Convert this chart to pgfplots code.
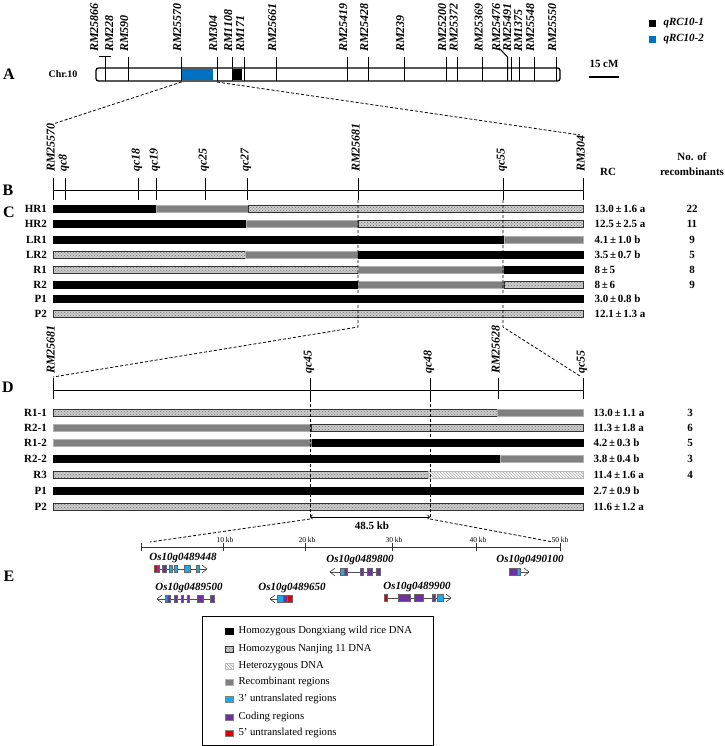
\documentclass[border=0pt]{standalone}
\usepackage{fontspec}
\setmainfont{Liberation Serif}
\usepackage{pgfplots}
\pgfplotsset{compat=1.18}
\usetikzlibrary{patterns}
\definecolor{qblue}{RGB}{0,112,192}
\definecolor{cdsp}{RGB}{112,48,160}
\definecolor{utrt}{RGB}{30,170,230}
\definecolor{utrf}{RGB}{225,0,0}
\definecolor{recg}{RGB}{128,128,128}
\tikzset{
 blk/.style={fill=black, draw=black, line width=0.3pt},
 hat/.style={fill=gray!40, draw=black!80, line width=0.7pt, postaction={pattern=crosshatch dots, pattern color=black!55}},
 rec/.style={fill=recg, draw=gray!60, line width=0.6pt},
 het/.style={fill=white, draw=gray!55, line width=0.6pt, postaction={pattern=north west lines, pattern color=gray!75}},
 dsh/.style={black, line width=0.8pt, dash pattern=on 3pt off 2pt},
 pl/.style={font=\bfseries\fontsize{16}{16}\selectfont, inner sep=0pt},
}
\newcommand{\mk}{\fontsize{12}{12}\selectfont\bfseries\itshape}
\newcommand{\lb}{\fontsize{11}{11}\selectfont\bfseries}
\newcommand{\seg}[4]{\pgfmathsetmacro\ya{#3-3.5}\pgfmathsetmacro\yb{#3+3.5}%
 \addplot[#4] coordinates {(#1,\ya) (#2,\ya) (#2,\yb) (#1,\yb)} --cycle;}
\newcommand{\gb}[4]{\pgfmathsetmacro\ya{#3-3.5}\pgfmathsetmacro\yb{#3+3.5}%
 \addplot[fill=#4, draw=black!60, line width=0.4pt] coordinates {(#1,\ya) (#2,\ya) (#2,\yb) (#1,\yb)} --cycle;}
\newcommand{\lsq}[3]{\pgfmathsetmacro\ya{#2-3}\pgfmathsetmacro\yb{#2+3}%
 \addplot[#3] coordinates {(225,\ya) (233,\ya) (233,\yb) (225,\yb)} --cycle;
 \node[anchor=west, font=\fontsize{10.7}{11}\selectfont] at (axis cs:235,#2) {#1};}
\newcommand{\chR}[2]{\pgfmathsetmacro\xa{#1-5}\pgfmathsetmacro\ya{#2-4}\pgfmathsetmacro\yb{#2+4}%
 \addplot[black!75, line width=0.6pt] coordinates {(\xa,\ya) (#1,#2) (\xa,\yb)};}
\newcommand{\chL}[2]{\pgfmathsetmacro\xa{#1+5}\pgfmathsetmacro\ya{#2-4}\pgfmathsetmacro\yb{#2+4}%
 \addplot[black!75, line width=0.6pt] coordinates {(\xa,\ya) (#1,#2) (\xa,\yb)};}
\newcommand{\gl}[3]{\addplot[black!70, line width=0.8pt] coordinates {(#1,#3) (#2,#3)};}
\newcommand{\vl}[3]{\addplot[black, line width=1pt] coordinates {(#1,#2) (#1,#3)};}
\newcommand{\mA}[2]{\node[rotate=90, anchor=base west, font=\mk, inner sep=0pt] at (axis cs:#1+4,52) {#2};}
\newcommand{\mB}[2]{\node[rotate=90, anchor=base west, font=\mk, inner sep=0pt] at (axis cs:#1+1.5,172) {#2};}
\newcommand{\mD}[2]{\node[rotate=90, anchor=base west, font=\mk, inner sep=0pt] at (axis cs:#1+1.5,374) {#2};}
\newcommand{\rl}[2]{\node[anchor=east, font=\lb, inner sep=0pt] at (axis cs:47,#1) {#2};}
\begin{document}
\begin{tikzpicture}
\begin{axis}[scale only axis, width=724pt, height=746pt, xmin=0, xmax=724, ymin=0, ymax=746,
  y dir=reverse, hide axis, clip=false]
% ---------------- A ----------------
\node[pl] at (axis cs:9,74) {A};
\node[font=\bfseries\fontsize{10}{10}\selectfont] at (axis cs:63,74) {Chr.10};
\addplot[draw=black, line width=1.3pt, fill=white, rounded corners=2.5pt] coordinates {(96,68) (560,68) (560,81) (96,81)} --cycle;
\addplot[fill=qblue, draw=none] coordinates {(182,69) (213,69) (213,80) (182,80)} --cycle;
\addplot[fill=black, draw=none] coordinates {(233,69) (242,69) (242,80) (233,80)} --cycle;
\addplot[black, line width=1pt] coordinates {(99,57) (111,57)};
\vl{105}{57}{81} \vl{128}{57}{81} \vl{181.5}{57}{81} \vl{217}{57}{81} \vl{232}{57}{81}
\vl{244}{57}{81} \vl{276}{57}{81} \vl{347}{57}{81} \vl{368}{57}{81} \vl{404}{57}{81}
\vl{446}{57}{81} \vl{457.5}{57}{81} \vl{482.5}{57}{81} \vl{511}{57}{81}
\vl{519.5}{57}{81} \vl{534}{57}{81} \vl{556}{57}{81}
\addplot[black, line width=1pt] coordinates {(500,49) (507.5,57) (507.5,81)};
\mA{94}{RM25866} \mA{109}{RM228} \mA{124}{RM590} \mA{177}{RM25570} \mA{213}{RM304}
\mA{228}{RM1108} \mA{240}{RM171} \mA{272}{RM25661} \mA{343}{RM25419} \mA{364}{RM25428}
\mA{400}{RM239} \mA{442}{RM25200} \mA{453.5}{RM25372} \mA{478.5}{RM25369} \mA{496}{RM25476}
\mA{507}{RM25491} \mA{518}{RM1375} \mA{530}{RM25548} \mA{552}{RM25550}
% legend top right
\addplot[fill=black, draw=none] coordinates {(649,20) (656,20) (656,27) (649,27)} --cycle;
\addplot[fill=qblue, draw=none] coordinates {(649,36) (656,36) (656,43) (649,43)} --cycle;
\node[anchor=west, font=\mk\fontsize{11}{11}\selectfont] at (axis cs:660,23.5) {qRC10-1};
\node[anchor=west, font=\mk\fontsize{11}{11}\selectfont] at (axis cs:660,39.5) {qRC10-2};
\node[font=\lb] at (axis cs:604,64) {15 cM};
\addplot[black, line width=1.2pt] coordinates {(589,77) (619,77)};
% dashed A->B
\addplot[dsh] coordinates {(181.5,82) (53,124)};
\addplot[dsh] coordinates {(217,82) (580,135)};
% ---------------- B ----------------
\node[pl] at (axis cs:8,190) {B};
\addplot[black, line width=1pt] coordinates {(53,190) (583,190)};
\vl{53}{178}{200} \vl{65}{178}{200} \vl{138}{178}{200} \vl{156}{178}{200} \vl{205}{178}{200}
\vl{247}{178}{200} \vl{358}{178}{200} \vl{503}{178}{200} \vl{583}{178}{200}
\mB{53}{RM25570} \mB{65}{qc8} \mB{138}{qc18} \mB{156}{qc19} \mB{205}{qc25} \mB{247}{qc27}
\mB{358}{RM25681} \mB{503}{qc55} \mB{583}{RM304}
\node[font=\lb] at (axis cs:608,172) {RC};
\node[font=\lb, inner sep=0pt] at (axis cs:692,157) {No. of};
\node[font=\lb, inner sep=0pt] at (axis cs:692,172) {recombinants};
% ---------------- C ----------------
\node[pl] at (axis cs:9,212) {C};
\seg{53}{156}{209}{blk} \seg{156}{248}{209}{rec} \seg{248}{583}{209}{hat}
\seg{53}{246}{224}{blk} \seg{246}{358}{224}{rec} \seg{358}{583}{224}{hat}
\seg{53}{504}{239.5}{blk} \seg{504}{583}{239.5}{rec}
\seg{53}{245}{255}{hat} \seg{245}{358}{255}{rec} \seg{358}{583}{255}{blk}
\seg{53}{358}{270}{hat} \seg{358}{504}{270}{rec} \seg{504}{583}{270}{blk}
\seg{53}{358}{285}{blk} \seg{358}{504}{285}{rec} \seg{504}{583}{285}{hat}
\seg{53}{583}{298.5}{blk}
\seg{53}{583}{313.5}{hat}
\rl{209}{HR1} \rl{224}{HR2} \rl{239.5}{LR1} \rl{255}{LR2} \rl{270}{R1} \rl{285}{R2} \rl{298.5}{P1} \rl{313.5}{P2}
\node[anchor=west, font=\lb] at (axis cs:591,209) {13.0\,±\,1.6 a};
\node[anchor=west, font=\lb] at (axis cs:591,224) {12.5\,±\,2.5 a};
\node[anchor=west, font=\lb] at (axis cs:591,239.5) {4.1\,±\,1.0 b};
\node[anchor=west, font=\lb] at (axis cs:591,255) {3.5\,±\,0.7 b};
\node[anchor=west, font=\lb] at (axis cs:591,270) {8\,±\,5};
\node[anchor=west, font=\lb] at (axis cs:591,285) {8\,±\,6};
\node[anchor=west, font=\lb] at (axis cs:591,298.5) {3.0\,±\,0.8 b};
\node[anchor=west, font=\lb] at (axis cs:591,313.5) {12.1\,±\,1.3 a};
\node[font=\lb] at (axis cs:692,209) {22};
\node[font=\lb] at (axis cs:692,224) {11};
\node[font=\lb] at (axis cs:692,239.5) {9};
\node[font=\lb] at (axis cs:692,255) {5};
\node[font=\lb] at (axis cs:692,270) {8};
\node[font=\lb] at (axis cs:692,285) {9};
\addplot[dsh] coordinates {(358,200) (358,327) (53,377)};
\addplot[dsh] coordinates {(503,200) (503,327) (580,376)};
% ---------------- D ----------------
\node[pl] at (axis cs:8,387) {D};
\addplot[black, line width=1pt] coordinates {(53,390) (583,390)};
\vl{53}{378}{399} \vl{310}{378}{399} \vl{430}{378}{399} \vl{498}{378}{399} \vl{583}{378}{399}
\mD{53}{RM25681} \mD{310}{qc45} \mD{430}{qc48} \mD{498}{RM25628} \mD{583}{qc55}
\seg{53}{497}{413}{hat} \seg{497}{583}{413}{rec}
\seg{53}{311}{428}{rec} \seg{311}{583}{428}{hat}
\seg{53}{312}{443}{rec} \seg{312}{583}{443}{blk}
\seg{53}{500}{459}{blk} \seg{500}{583}{459}{rec}
\seg{53}{428}{475}{hat} \seg{428}{583}{475}{het}
\seg{53}{583}{491}{blk}
\seg{53}{583}{506.5}{hat}
\rl{413}{R1-1} \rl{428}{R2-1} \rl{443}{R1-2} \rl{459}{R2-2} \rl{475}{R3} \rl{491}{P1} \rl{506.5}{P2}
\node[anchor=west, font=\lb] at (axis cs:590,413) {13.0\,±\,1.1 a};
\node[anchor=west, font=\lb] at (axis cs:590,428) {11.3\,±\,1.8 a};
\node[anchor=west, font=\lb] at (axis cs:590,443) {4.2\,±\,0.3 b};
\node[anchor=west, font=\lb] at (axis cs:590,459) {3.8\,±\,0.4 b};
\node[anchor=west, font=\lb] at (axis cs:590,475) {11.4\,±\,1.6 a};
\node[anchor=west, font=\lb] at (axis cs:590,491) {2.7\,±\,0.9 b};
\node[anchor=west, font=\lb] at (axis cs:590,506.5) {11.6\,±\,1.2 a};
\node[font=\lb] at (axis cs:690,413) {3};
\node[font=\lb] at (axis cs:690,428) {6};
\node[font=\lb] at (axis cs:690,443) {5};
\node[font=\lb] at (axis cs:690,459) {3};
\node[font=\lb] at (axis cs:690,475) {4};
\addplot[dsh] coordinates {(310,399) (310,517)};
\addplot[dsh] coordinates {(430,399) (430,517)};
\addplot[black, line width=0.8pt, <->] coordinates {(310,517) (430,517)};
\node[font=\lb] at (axis cs:372,526) {48.5 kb};
\addplot[dsh] coordinates {(310,519) (150,542)};
\addplot[dsh] coordinates {(430,519) (553,542)};
% ---------------- E ----------------
\node[pl] at (axis cs:9,576) {E};
\addplot[black!80, line width=0.9pt] coordinates {(141,547) (560,547)};
\addplot[black!80, line width=0.9pt] coordinates {(141,543) (141,551)};
\addplot[black!80, line width=0.9pt] coordinates {(223,543) (223,551)};
\addplot[black!80, line width=0.9pt] coordinates {(305,543) (305,551)};
\addplot[black!80, line width=0.9pt] coordinates {(392,543) (392,551)};
\addplot[black!80, line width=0.9pt] coordinates {(476,543) (476,551)};
\addplot[black!80, line width=0.9pt] coordinates {(560,543) (560,551)};
\node[font=\fontsize{7.5}{8}\selectfont] at (axis cs:225,539.5) {10 kb};
\node[font=\fontsize{7.5}{8}\selectfont] at (axis cs:307,539.5) {20 kb};
\node[font=\fontsize{7.5}{8}\selectfont] at (axis cs:394,539.5) {30 kb};
\node[font=\fontsize{7.5}{8}\selectfont] at (axis cs:478,539.5) {40 kb};
\node[font=\fontsize{7.5}{8}\selectfont] at (axis cs:560,539.5) {50 kb};
% genes
\node[font=\mk\fontsize{11}{11}\selectfont] at (axis cs:183,558) {Os10g0489448};
\gl{154}{207}{569}
\gb{154.3}{156.7}{569}{utrf} \gb{156.7}{159}{569}{cdsp} \gb{162}{166}{569}{cdsp}
\gb{169}{172}{569}{utrt} \gb{174}{177}{569}{utrt} \gb{184}{190}{569}{utrt} \gb{196}{199}{569}{utrt}
\chR{207}{569}
\node[font=\mk\fontsize{11}{11}\selectfont] at (axis cs:360,560) {Os10g0489800};
\gl{330}{380}{572}
\gb{340}{344}{572}{utrt} \gb{344}{347}{572}{cdsp} \gb{360}{363}{572}{cdsp} \gb{367}{372}{572}{cdsp} \gb{376}{380}{572}{cdsp}
\chL{330}{572}
\node[font=\mk\fontsize{11}{11}\selectfont] at (axis cs:530,560) {Os10g0490100};
\gl{509}{529}{572}
\gb{509}{517}{572}{cdsp} \gb{517}{520}{572}{utrt}
\chR{529}{572}
\node[font=\mk\fontsize{11}{11}\selectfont] at (axis cs:189,588) {Os10g0489500};
\gl{157}{214}{599}
\gb{165}{167}{599}{utrt} \gb{167}{170}{599}{cdsp} \gb{174}{177}{599}{cdsp} \gb{181}{183}{599}{cdsp}
\gb{187}{189}{599}{cdsp} \gb{197}{203}{599}{cdsp} \gb{210}{214}{599}{cdsp}
\chL{157}{599}
\node[font=\mk\fontsize{11}{11}\selectfont] at (axis cs:292,588) {Os10g0489650};
\gl{270}{292}{599}
\gb{277}{283}{599}{utrt} \gb{283}{287}{599}{cdsp} \gb{287}{292}{599}{utrf}
\chL{270}{599}
\node[font=\mk\fontsize{11}{11}\selectfont] at (axis cs:417,587) {Os10g0489900};
\gl{384}{451}{598}
\gb{384}{387}{598}{utrf} \gb{398}{410}{598}{cdsp} \gb{414}{423}{598}{cdsp} \gb{432}{435}{598}{cdsp} \gb{437}{443}{598}{utrt}
\chR{451}{598}
% legend box
\addplot[draw=black, line width=0.8pt, fill=white] coordinates {(202,616) (433,616) (433,745) (202,745)} --cycle;
\lsq{Homozygous Dongxiang wild rice DNA}{631}{blk}
\lsq{Homozygous Nanjing 11 DNA}{649}{hat}
\lsq{Heterozygous DNA}{666}{het}
\lsq{Recombinant regions}{682}{rec}
\lsq{3' untranslated regions}{699}{fill=utrt, draw=black!50, line width=0.4pt}
\lsq{Coding regions}{717}{fill=cdsp, draw=black!50, line width=0.4pt}
\lsq{5' untranslated regions}{733}{fill=utrf, draw=black!50, line width=0.4pt}
\end{axis}
\pgfresetboundingbox
\path (current axis.south west) rectangle (current axis.north east);
\end{tikzpicture}
\end{document}
